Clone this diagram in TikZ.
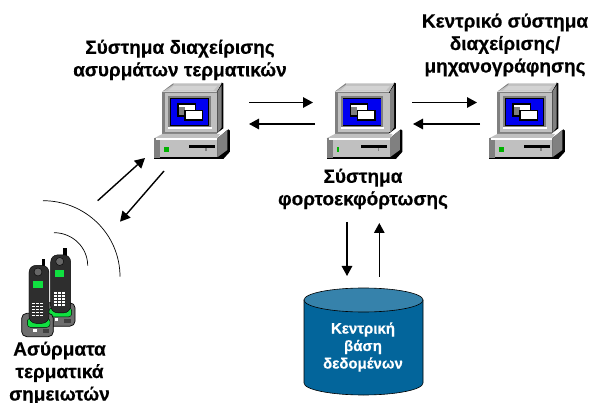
\documentclass[tikz,border=0pt]{standalone}
\usepackage{fontspec}
\setmainfont[BoldFont={Liberation Sans Bold},BoldFeatures={FakeBold=0.4}]{Liberation Sans}
\usetikzlibrary{arrows.meta}
\definecolor{dbside}{HTML}{03659B}
\definecolor{dbtop}{HTML}{3682AB}
\definecolor{pcgray}{HTML}{C0C0C0}
\definecolor{pcdark}{HTML}{808080}
\definecolor{pcblue}{HTML}{0000F0}
\definecolor{phgreen}{HTML}{10E040}
\definecolor{basegray}{HTML}{6E6E6E}
\tikzset{
  every node/.style={font=\bfseries\fontsize{19}{22.5}\selectfont,align=center,inner sep=0pt,text=black},
  flow/.style={line width=1.4pt,-{Triangle[length=10pt,width=10.5pt]}},
  wave/.style={line width=.7pt},
  pics/computer/.style={code={
    \begin{scope}[x=.3333pt,y=-.3333pt,line join=round]
      \fill[black] (230,190)--(250,175)--(250,40)--(245,38)--(230,65)--cycle;
      \fill[pcdark] (232,190)--(245,172)--(245,46)--(232,65)--cycle;
      \fill[pcgray] (67,65)--(100,40)--(245,40)--(230,65)--cycle;
      \fill[pcdark] (72,62)--(100,44)--(100,40)--(67,65)--cycle;
      \fill[pcgray!70!white] (100,48)--(232,48)--(220,62)--(84,62)--cycle;
      \fill[pcdark] (67,65) rectangle (230,195);
      \fill[pcgray] (75,70) rectangle (232,186);
      \fill[pcdark] (85,78) rectangle (212,172);
      \fill[black] (90,83) rectangle (207,167);
      \fill[pcblue] (92,88) rectangle (205,165);
      \fill[white] (85,172) rectangle (215,176);
      \fill[black] (112,100) rectangle (168,140);
      \fill[white] (116,104) rectangle (165,136);
      \fill[pcdark] (116,110) rectangle (134,136);
      \fill[black] (132,120) rectangle (190,153);
      \fill[white] (137,124) rectangle (185,147);
      \fill[black] (232,205)--(265,178)--(270,182)--(270,245)--(250,267)--(232,267)--cycle;
      \fill[pcdark] (232,205)--(262,180)--(262,240)--(232,262)--cycle;
      \fill[pcgray] (42,205)--(67,192)--(240,192)--(232,205)--cycle;
      \fill[black] (42,262) rectangle (240,267);
      \fill[pcdark] (42,205) rectangle (60,265);
      \fill[pcgray] (60,205) rectangle (232,262);
      \fill[white] (48,205) rectangle (232,209);
      \fill[green!70!black] (72,232) rectangle ({72+#1},245);
      \fill[black] (147,225) rectangle (225,235);
      \fill[pcdark] (196,235) rectangle (201,244);
    \end{scope}}},
  pics/handset/.style={code={
    \begin{scope}[x=.3333pt,y=-.3333pt,line join=round]
      \fill[basegray,draw=black,line width=.7pt,rounded corners=5pt] (65,400) rectangle (160,470);
      \fill[phgreen,draw=black,rounded corners=3pt] (82,415) rectangle (150,442);
      \fill[black] (125,237) rectangle (136,270);
      \fill[black!82,draw=black,rounded corners=7pt] (87,256) rectangle (147,430);
      \fill[black!60,draw=black] (114,276) circle[radius=4pt];
      \fill[phgreen] (100,302) rectangle (128,323);
      \foreach \r in {0,...,4}{\foreach \c in {0,1,2}{
        \fill[white] ({97+\c*12},{368+\r*9}) rectangle ({105+\c*12},{373+\r*9});}}
      \fill[white] (100,447) rectangle (110,455);
      \fill[black!75] (128,448) rectangle (148,460);
    \end{scope}}}
}
\begin{document}
\begin{tikzpicture}[x=1pt,y=-1pt]
\useasboundingbox (0,0) rectangle (594,403);
\fill[white] (0,0) rectangle (594,403);
\pic at (140,70) {computer=15};
\pic at (312.5,70) {computer=6};
\pic at (475,70) {computer=15};
\pic at (21.7,169.5) {handset};
\pic at (0,180) {handset};
\coordinate (w1a) at (43,200.7);
\coordinate (w1b) at (120,276.7);
\coordinate (w2a) at (54,232.7);
\coordinate (w2b) at (87.7,265.7);
\draw[wave] (w1a) to[out=0,in=90] (w1b);
\draw[wave] (w2a) to[out=0,in=90] (w2b);
\node (l1) at (180,60) {Σύστημα διαχείρισης\\ασυρμάτων τερματικών};
\node (l2) at (505,45) {Κεντρικό σύστημα\\διαχείρισης/\\μηχανογράφησης};
\node (l3) at (363,189) {Σύστημα\\φορτοεκφόρτωσης};
\node (l4) at (59.5,373) {Ασύρματα\\τερματικά\\σημειωτών};
\fill[dbside,draw=black,line width=.6pt] (304,300) -- (304,383) arc[start angle=180,end angle=360,x radius=59.5pt,y radius=12pt] -- (423,300) -- cycle;
\path[fill=dbtop,draw=black,line width=.6pt] (363.5,300) ellipse[x radius=59.5pt,y radius=12pt];
\node[text=white,font=\bfseries\fontsize{15}{17.5}\selectfont] (db) at (363,347) {Κεντρική\\βάση\\δεδομένων};
\coordinate (a1) at (97.7,200.7); \coordinate (a2) at (145,158);
\coordinate (b1) at (164,171); \coordinate (b2) at (120,221.7);
\coordinate (c1) at (249,102.5); \coordinate (c2) at (313,102.5);
\coordinate (d1) at (315,124); \coordinate (d2) at (249,124);
\coordinate (e1) at (412,102.5); \coordinate (e2) at (477,102.5);
\coordinate (f1) at (480,124); \coordinate (f2) at (413,124);
\coordinate (g1) at (347,222); \coordinate (g2) at (347,276);
\coordinate (h1) at (379.3,277); \coordinate (h2) at (379.3,223);
\foreach \p/\q in {a1/a2,b1/b2,c1/c2,d1/d2,e1/e2,f1/f2,g1/g2,h1/h2}
  \draw[flow] (\p) -- (\q);
\end{tikzpicture}
\end{document}
